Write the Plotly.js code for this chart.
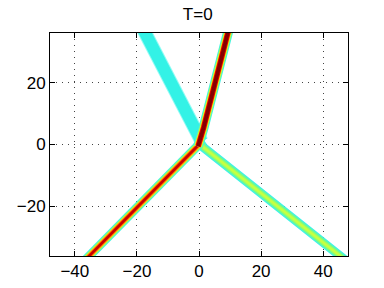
<!DOCTYPE html>
<html>
<head>
<meta charset="utf-8">
<script src="https://cdn.plot.ly/plotly-3.0.1.min.js"></script>
<style>html,body{margin:0;padding:0;background:#fff;}#chart{width:384px;height:288px;}</style>
</head>
<body>
<div id="chart"></div>
<script>
// Branch paths (data coordinates)
const upperLeftX = [0.8, -19.4];
const upperLeftY = [1.0, 40];
const upperRightX = [-0.3, 1.5, 10.3];
const upperRightY = [-0.6, 5.5, 40];
const lowerLeftX = [0.0, -1.0, -39.3];
const lowerLeftY = [0.0, -1.0, -40];
const lowerRightX = [0.5, 1.5, 50.5];
const lowerRightY = [0.5, -1.0, -40];
const titleText = 'T=0';
const xTicks = [-40, -20, 0, 20, 40];
const yTicks = [-20, 0, 20];

// Layer styles (outer to inner) – jet-like colours
const layersUL = [['#8ffcf4', 14], ['#33f2e6', 12]];
const layersUR = [['#3ff2e6', 10], ['#80ff80', 8.5], ['#ffe600', 7], ['#e00000', 5.5], ['#850000', 3.6]];
const layersLL = [['#3ff2e6', 9], ['#80ff80', 7.5], ['#ffd000', 5.5], ['#ff5a00', 4], ['#c80000', 2.5]];
const layersLR = [['#3ff2e6', 9], ['#70fa90', 6.5], ['#a0ff60', 4], ['#c8ff40', 2.2]];

const traces = [];
function addBranch(xs, ys, layers) {
  layers.forEach(([c, w]) => {
    traces.push({type: 'scatter', mode: 'lines', x: xs, y: ys,
      line: {color: c, width: w}, hoverinfo: 'skip', showlegend: false});
  });
}
addBranch(lowerRightX, lowerRightY, layersLR);
addBranch(upperLeftX, upperLeftY, layersUL);
addBranch(lowerLeftX, lowerLeftY, layersLL);
addBranch(upperRightX, upperRightY, layersUR);

const axisCommon = {
  showline: true, linecolor: '#000', linewidth: 1, mirror: 'allticks',
  ticks: 'inside', ticklen: 5, tickcolor: '#000', tickwidth: 1,
  showgrid: true, gridcolor: '#444', griddash: '1px,5px', gridwidth: 1,
  zeroline: false, tickfont: {family: 'Liberation Sans, Arial, sans-serif', size: 17, color: '#000'},
  tickmode: 'array'
};

const layout = {
  width: 384, height: 288,
  margin: {l: 50, r: 36, t: 33, b: 32},
  paper_bgcolor: '#fff', plot_bgcolor: '#fff',
  title: {text: titleText, x: 0.515, xanchor: 'center', y: 0.95, yanchor: 'middle',
    font: {family: 'Liberation Sans, Arial, sans-serif', size: 17, color: '#000'}},
  xaxis: Object.assign({}, axisCommon, {range: [-48, 48], tickvals: xTicks,
    ticktext: xTicks.map(v => v < 0 ? '\u2212' + Math.abs(v) : String(v))}),
  yaxis: Object.assign({}, axisCommon, {range: [-36, 36], tickvals: yTicks,
    ticktext: yTicks.map(v => v < 0 ? '\u2212' + Math.abs(v) : String(v))}),
  showlegend: false
};

Plotly.newPlot('chart', traces, layout, {staticPlot: true, displayModeBar: false});
</script>
</body>
</html>
